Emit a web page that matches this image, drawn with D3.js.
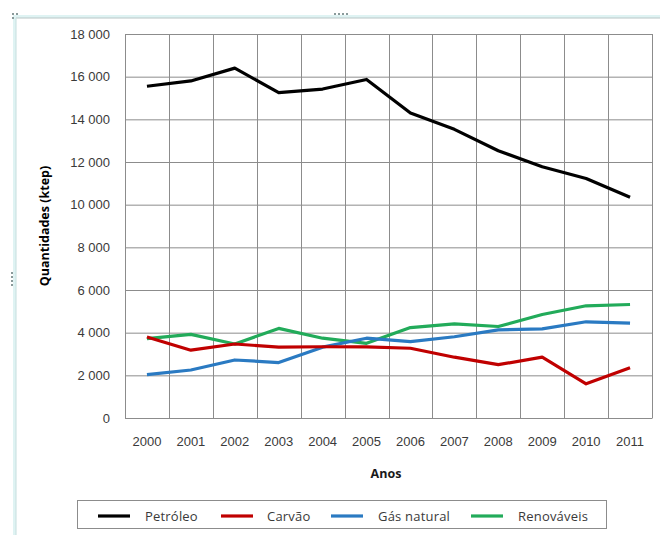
<!DOCTYPE html>
<html>
<head>
<meta charset="utf-8">
<script src="https://cdn.jsdelivr.net/npm/d3@7"></script>
<style>
  html, body { margin: 0; padding: 0; background: #fff; }
  svg { display: block; font-family: "Open Sans", "Noto Sans", sans-serif; }
</style>
</head>
<body>
<svg id="chart" width="660" height="535"></svg>
<script>
// Energy consumption by source (ktep), 2000–2011
const years = ["2000","2001","2002","2003","2004","2005","2006","2007","2008","2009","2010","2011"];
const petroleo   = [15550, 15800, 16400, 15250, 15420, 15870, 14300, 13530, 12530, 11780, 11230, 10350];
const carvao     = [3800, 3180, 3470, 3320, 3340, 3330, 3270, 2850, 2500, 2850, 1600, 2350];
const gasNatural = [2030, 2250, 2720, 2600, 3320, 3740, 3580, 3810, 4130, 4180, 4510, 4450];
const renovaveis = [3720, 3920, 3470, 4200, 3740, 3500, 4240, 4410, 4290, 4850, 5260, 5320];
const seriesNames = ["Petróleo", "Carvão", "Gás natural", "Renováveis"];
const seriesColors = ["#000000", "#c00000", "#2a7ac2", "#22ab5a"];
const yTicks = [0, 2000, 4000, 6000, 8000, 10000, 12000, 14000, 16000, 18000];

const series = [petroleo, carvao, gasNatural, renovaveis];

const svg = d3.select("#chart");

// Outer chart frame
const frame = svg.append("g");
frame.append("rect").attr("x", 13).attr("y", 15).attr("width", 660).attr("height", 3).attr("fill", "#dff3f3");
frame.append("line").attr("x1", 15).attr("x2", 660).attr("y1", 18).attr("y2", 18).attr("stroke", "#b9c6c6").attr("stroke-width", 1);
frame.append("rect").attr("x", 13).attr("y", 15).attr("width", 3).attr("height", 520).attr("fill", "#dff3f3");
frame.append("line").attr("x1", 16).attr("x2", 16).attr("y1", 18).attr("y2", 535).attr("stroke", "#c6dede").attr("stroke-width", 1);
// Resize handles
[334, 338, 342, 346].forEach(x => frame.append("rect").attr("x", x).attr("y", 13).attr("width", 2).attr("height", 2).attr("fill", "#8a9a9a"));
[272, 276, 280, 284].forEach(y => frame.append("rect").attr("x", 11).attr("y", y).attr("width", 2).attr("height", 2).attr("fill", "#8a9a9a"));
[[12,13],[16,13],[12,17]].forEach(([x,y]) => frame.append("rect").attr("x", x).attr("y", y).attr("width", 2).attr("height", 2).attr("fill", "#8a9a9a"));

const plot = { left: 125, right: 652, top: 34, bottom: 418 };

const x = d3.scaleBand().domain(years).range([plot.left, plot.right]).padding(0);
const y = d3.scaleLinear().domain([0, 18000]).range([plot.bottom, plot.top]);

const fmt = v => d3.format(",")(v).replace(/,/g, " ");

// Horizontal gridlines + y labels
const yAxis = d3.axisLeft(y).tickValues(yTicks).tickFormat(fmt)
  .tickSize(-(plot.right - plot.left)).tickPadding(15);
const gy = svg.append("g").attr("transform", `translate(${plot.left},0)`).call(yAxis);
gy.select(".domain").remove();
gy.selectAll(".tick line").attr("stroke", "#8c8c8c").attr("stroke-width", 1);
gy.selectAll(".tick text").attr("fill", "#3a3a3a").style("font-size", "13px");

// Vertical gridlines at category boundaries
const bounds = years.map(d => x(d)).concat([x(years[years.length - 1]) + x.bandwidth()]);
svg.append("g").selectAll("line").data(bounds).join("line")
  .attr("x1", d => Math.round(d) + 0.5).attr("x2", d => Math.round(d) + 0.5)
  .attr("y1", plot.top).attr("y2", plot.bottom + 0.5)
  .attr("stroke", "#8c8c8c").attr("stroke-width", 1);

// X axis labels
const xAxis = d3.axisBottom(x).tickSize(0).tickPadding(19);
const gx = svg.append("g").attr("transform", `translate(0,${plot.bottom})`).call(xAxis);
gx.select(".domain").remove();
gx.selectAll(".tick text").attr("fill", "#3a3a3a").style("font-size", "13px");

// Axis titles
svg.append("text").attr("x", 386).attr("y", 478).attr("text-anchor", "middle")
  .style("font-size", "12.5px").style("font-weight", "bold").attr("fill", "#1a1a1a").text("Anos");
svg.append("text").attr("transform", `translate(49,${(plot.top + plot.bottom) / 2}) rotate(-90)`)
  .attr("text-anchor", "middle").style("font-size", "12.5px").style("font-weight", "bold")
  .attr("fill", "#000").text("Quantidades (ktep)");

// Series lines
const line = d3.line().x((d, i) => x(years[i]) + x.bandwidth() / 2).y(d => y(d));
const order = [3, 2, 1, 0];
svg.append("g").selectAll("path").data(order).join("path")
  .attr("d", i => line(series[i]))
  .attr("fill", "none").attr("stroke", i => seriesColors[i])
  .attr("stroke-width", 3.2).attr("stroke-linejoin", "round").attr("stroke-linecap", "butt");

// Legend
const legend = svg.append("g");
legend.append("rect").attr("x", 77.5).attr("y", 500.5).attr("width", 529).attr("height", 28)
  .attr("fill", "#fff").attr("stroke", "#8c8c8c").attr("stroke-width", 1);
const legendItems = [
  { lx: 98, tx: 145 },
  { lx: 221, tx: 267 },
  { lx: 331, tx: 378 },
  { lx: 471, tx: 518 }
];
legendItems.forEach((p, i) => {
  legend.append("line").attr("x1", p.lx).attr("x2", p.lx + 32).attr("y1", 516).attr("y2", 516)
    .attr("stroke", seriesColors[i]).attr("stroke-width", 3.2);
  legend.append("text").attr("x", p.tx).attr("y", 520.5).style("font-size", "13px")
    .style("letter-spacing", "0.2px").attr("fill", "#3a3a3a").text(seriesNames[i]);
});
</script>
</body>
</html>
